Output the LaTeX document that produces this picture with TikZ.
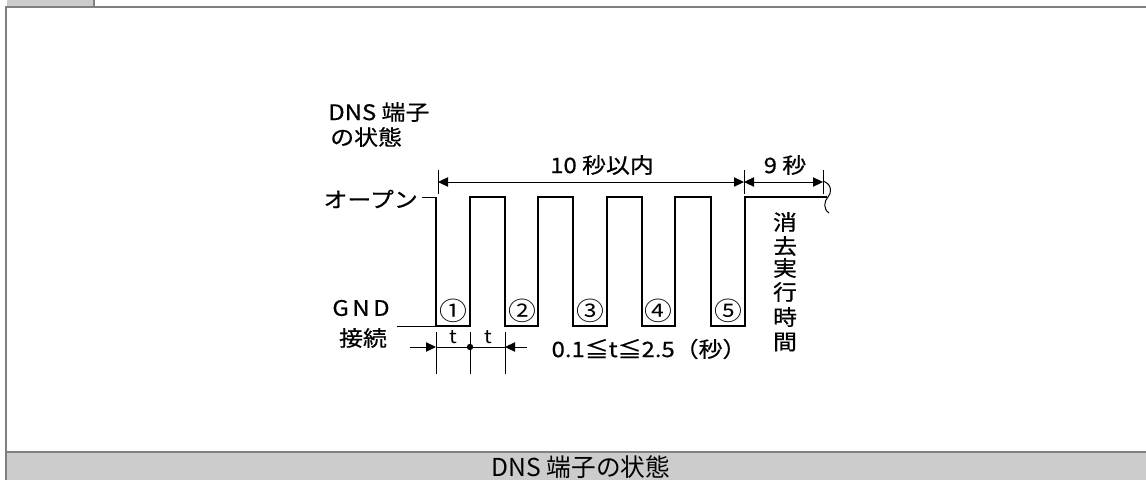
\documentclass[tikz,border=0pt]{standalone}
\usepackage{fontspec}
\newfontfamily\jp[FakeStretch=1.12,FakeBold=0.6]{Noto Sans CJK JP}
\newfontfamily\jpthin[FakeStretch=1.1]{Noto Sans CJK JP}
\newfontfamily\jpcap[FakeStretch=1.0]{Noto Sans CJK JP}
\usetikzlibrary{arrows.meta}
\definecolor{framegray}{HTML}{808080}
\definecolor{bandgray}{HTML}{CCCCCC}
\begin{document}
\begin{tikzpicture}[x=0.75pt,y=-0.75pt,
  lbl/.style={font=\jp\fontsize{16}{18.75}\selectfont, inner sep=0pt},
  circ/.style={font=\jpthin\fontsize{19}{20}\selectfont, inner sep=0pt},
  wave/.style={line width=1.5pt, line join=miter},
  thinline/.style={line width=0.75pt},
  dimarrow/.style={thinline, -{Triangle[length=7.5pt,width=7pt]}},
  framel/.style={framegray, line width=1.5pt}]
\useasboundingbox (0,0) rectangle (1146,480);
% frame
\fill[bandgray] (7,0) rectangle (93,6);
\draw[framel] (93.5,0) -- (93.5,6);
\draw[framel] (6,7) -- (1146,7);
\fill[bandgray] (7,453) rectangle (1146,480);
\draw[framel] (6,452) -- (1146,452);
\draw[framel] (6,6) -- (6,480);
\node[font=\jpcap\fontsize{18.5}{20}\selectfont, inner sep=0pt] (cap) at (581,467) {DNS 端子の状態};
% waveform
\coordinate (w0) at (436,197);
\coordinate (wend) at (827,197);
\draw[wave] (w0) -- (436,326) -- (470,326) -- (470,197) -- (505,197) -- (505,326)
  -- (538,326) -- (538,197) -- (573,197) -- (573,326) -- (607,326) -- (607,197)
  -- (642,197) -- (642,326) -- (675,326) -- (675,197) -- (711,197) -- (711,326)
  -- (745,326) -- (745,197) -- (wend);
% break mark
\draw[thinline] (823,181) .. controls (832,184) and (832,193) .. (828,197)
  .. controls (824,201) and (823,209) .. (829,213);
% lead lines
\coordinate (openlead) at (422,197);
\coordinate (gndlead) at (397,326);
\draw[thinline] (openlead) -- (436,197);
\draw[thinline] (gndlead) -- (436,326);
% top dimension
\coordinate (tA) at (438,182);
\coordinate (tB) at (744,182);
\coordinate (tC) at (823,182);
\foreach \c in {tA,tB,tC} \draw[thinline] ([yshift=-9]\c) -- ([yshift=9]\c);
\draw[dimarrow, {Triangle[length=7.5pt,width=7pt]}-{Triangle[length=7.5pt,width=7pt]}] (tA) -- (tB);
\draw[dimarrow, {Triangle[length=7.5pt,width=7pt]}-{Triangle[length=7.5pt,width=7pt]}] (tB) -- (tC);
\node[lbl] (ten) at (602,165) {10 秒以内};
\node[lbl] (nine) at (785,165) {9 秒};
% bottom dimension
\coordinate (b0) at (436,347);
\coordinate (b1) at (470,347);
\coordinate (b2) at (505,347);
\coordinate (bl) at (410,347);
\coordinate (br) at (527,347);
\foreach \c in {b0,b1,b2} \draw[thinline] ([yshift=-20]\c) -- ([yshift=11]\c);
\draw[dimarrow] (bl) -- (b0);
\draw[thinline] (b0) -- (b2);
\draw[dimarrow] (br) -- (b2);
\fill (b1) circle[radius=3.2];
\node[lbl, font=\jpthin\fontsize{14}{15}\selectfont] (t1) at (453,337) {t};
\node[lbl, font=\jpthin\fontsize{14}{15}\selectfont] (t2) at (488,337) {t};
\node[lbl] (range) at (649,349) {0.1≦t≦2.5（秒）};
% labels
\node[lbl, anchor=west] (dns1) at (328,112) {DNS 端子};
\node[lbl, anchor=west] (dns2) at (330,137) {の状態};
\node[lbl, anchor=east] (open) at (418,199) {オープン};
\node[lbl] (gnd) at (361,308) {G\,N\,D};
\node[lbl] (conn) at (363,338) {接続};
% circled numbers
\node[circ] (n1) at (453,311) {①};
\node[circ] (n2) at (522,311) {②};
\node[circ] (n3) at (590,311) {③};
\node[circ] (n4) at (658,311) {④};
\node[circ] (n5) at (728,311) {⑤};
% vertical text
\foreach \ch/\yy [count=\i] in {消/222,去/246,実/268,行/292,時/317,間/342}
  \node[lbl] (v\i) at (785,\yy) {\ch};
\end{tikzpicture}
\end{document}
